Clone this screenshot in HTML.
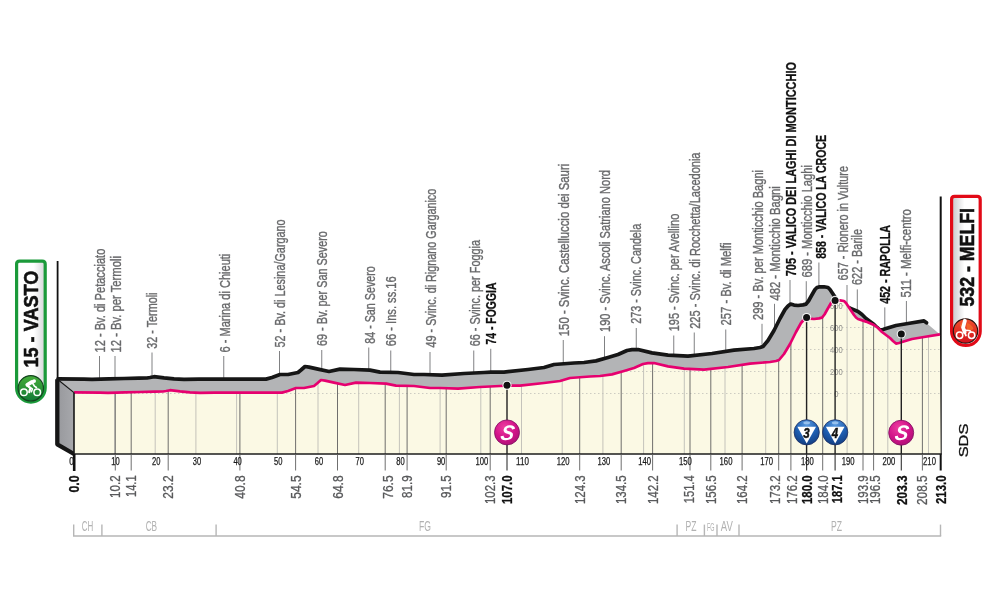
<!DOCTYPE html>
<html lang="it"><head><meta charset="utf-8"><title>Vasto - Melfi</title>
<style>
html,body{margin:0;padding:0;background:#fff;}
body{width:1000px;height:600px;overflow:hidden;}
svg{display:block;font-family:"Liberation Sans",sans-serif;}
.lb{font-size:14.2px;fill:#68696b;stroke:#68696b;stroke-width:0.35px;}
.lbb{font-size:14.2px;fill:#111;font-weight:bold;stroke:#111;stroke-width:0.3px;}
.km{font-size:14.2px;fill:#58595b;stroke:#58595b;stroke-width:0.3px;}
.kmb{font-size:14.2px;fill:#111;font-weight:bold;stroke:#111;stroke-width:0.3px;}
.ax{font-size:10.2px;fill:#1a1a1a;stroke:#1a1a1a;stroke-width:0.25px;text-anchor:middle;}
.el{font-size:9.4px;fill:#8f8f8c;text-anchor:middle;}
.pv{font-size:14.5px;fill:#b2b2b2;text-anchor:middle;}
</style></head><body>
<svg width="1000" height="600" viewBox="0 0 1000 600">
<defs>
<linearGradient id="gbox" x1="0" y1="0" x2="1" y2="0"><stop offset="0.08" stop-color="#cfd0d2"/><stop offset="0.45" stop-color="#fff"/><stop offset="1" stop-color="#fff"/></linearGradient>
<linearGradient id="gboxL" x1="0" y1="0" x2="1" y2="0"><stop offset="0" stop-color="#fff"/><stop offset="0.6" stop-color="#fff"/><stop offset="0.95" stop-color="#d9dadc"/></linearGradient>
<linearGradient id="gside" x1="0" y1="0" x2="1" y2="0"><stop offset="0" stop-color="#98999d"/><stop offset="1" stop-color="#a7a8ac"/></linearGradient>
<radialGradient id="gS" cx="0.4" cy="0.3" r="0.75"><stop offset="0" stop-color="#ee3fa0"/><stop offset="0.55" stop-color="#d3148a"/><stop offset="1" stop-color="#ad0f74"/></radialGradient>
<radialGradient id="gK" cx="0.5" cy="0.2" r="0.85"><stop offset="0" stop-color="#5b9be0"/><stop offset="0.5" stop-color="#1f5fb2"/><stop offset="1" stop-color="#123a7c"/></radialGradient>
<linearGradient id="gG" x1="0" y1="0" x2="0" y2="1"><stop offset="0" stop-color="#45ad3a"/><stop offset="1" stop-color="#117a35"/></linearGradient>
<linearGradient id="gR" x1="0" y1="0" x2="0" y2="1"><stop offset="0" stop-color="#f0512e"/><stop offset="1" stop-color="#d2101c"/></linearGradient>

<clipPath id="cf"><polygon points="74.0,392.4 100.0,392.7 108.0,392.9 125.0,392.4 140.0,392.0 155.0,391.7 163.0,391.5 166.0,391.0 170.0,390.2 174.0,390.6 180.0,391.4 190.0,392.4 200.0,392.8 215.0,392.7 230.0,392.6 282.0,392.6 288.0,391.0 296.0,388.0 304.0,388.0 314.0,386.0 317.0,383.5 321.0,380.0 325.0,380.6 334.0,382.6 345.0,385.0 356.0,382.6 370.0,383.0 386.0,383.6 396.0,385.6 414.0,386.0 430.0,388.0 440.0,388.0 458.0,388.6 480.0,387.0 500.0,386.0 507.0,385.6 520.0,385.6 544.0,383.0 560.0,381.0 570.0,378.0 590.0,376.5 600.0,376.0 612.0,374.4 624.0,371.0 634.0,368.0 643.0,364.0 648.0,363.2 654.0,363.0 668.0,366.4 684.0,368.6 704.0,369.6 728.0,367.0 750.0,363.6 770.0,362.0 776.0,361.0 779.0,360.0 784.0,354.0 790.0,344.0 796.0,332.0 801.0,323.0 804.0,319.5 806.6,317.6 810.0,318.6 814.0,319.0 819.0,318.4 822.0,317.6 824.5,314.5 827.0,310.0 831.0,303.0 833.0,301.0 835.0,300.4 840.0,300.3 844.0,301.0 846.0,303.0 848.0,306.0 854.0,315.0 856.0,317.5 858.0,319.0 866.0,321.6 874.0,325.0 878.0,328.0 882.0,332.0 890.0,338.0 893.0,341.0 896.0,343.6 899.0,343.0 902.0,342.0 912.0,339.0 924.0,337.0 940.0,334.4 940.7,454.0 74.0,454.0"/></clipPath>
</defs>
<rect width="1000" height="600" fill="#fff"/>
<g stroke="#808183" stroke-width="1" fill="none">
<line x1="99.50" y1="356.0" x2="99.50" y2="379.2"/>
<line x1="115.00" y1="356.0" x2="115.00" y2="378.7"/>
<line x1="152.00" y1="352.5" x2="152.00" y2="377.1"/>
<line x1="223.75" y1="356.0" x2="223.75" y2="379.1"/>
<line x1="279.50" y1="351.0" x2="279.50" y2="374.7"/>
<line x1="321.75" y1="350.0" x2="321.75" y2="369.9"/>
<line x1="368.75" y1="347.5" x2="368.75" y2="370.1"/>
<line x1="390.75" y1="350.5" x2="390.75" y2="372.3"/>
<line x1="430.00" y1="352.0" x2="430.00" y2="374.7"/>
<line x1="473.75" y1="350.5" x2="473.75" y2="373.0"/>
<line x1="490.75" y1="348.8" x2="490.75" y2="372.1"/>
<line x1="563.25" y1="340.0" x2="563.25" y2="363.8"/>
<line x1="604.50" y1="336.2" x2="604.50" y2="358.5"/>
<line x1="636.25" y1="328.0" x2="636.25" y2="349.6"/>
<line x1="673.75" y1="335.5" x2="673.75" y2="355.4"/>
<line x1="694.25" y1="332.5" x2="694.25" y2="355.4"/>
<line x1="725.75" y1="329.5" x2="725.75" y2="351.4"/>
<line x1="762.00" y1="323.8" x2="762.00" y2="346.8"/>
<line x1="774.50" y1="303.8" x2="774.50" y2="329.5"/>
<line x1="790.00" y1="280.0" x2="790.00" y2="304.5"/>
<line x1="806.25" y1="281.2" x2="806.25" y2="303.8"/>
<line x1="818.90" y1="262.5" x2="818.90" y2="286.9"/>
<line x1="847.00" y1="285.0" x2="847.00" y2="304.5"/>
<line x1="857.30" y1="289.4" x2="857.30" y2="311.2"/>
<line x1="884.80" y1="307.4" x2="884.80" y2="328.9"/>
<line x1="906.40" y1="301.0" x2="906.40" y2="323.8"/>
</g>
<text class="lb" transform="translate(105.00,352.50) rotate(-90)" textLength="103.8" lengthAdjust="spacingAndGlyphs">12 - Bv. di Petacciato</text>
<text class="lb" transform="translate(120.50,352.50) rotate(-90)" textLength="96.5" lengthAdjust="spacingAndGlyphs">12 - Bv. per Termoli</text>
<text class="lb" transform="translate(157.00,348.75) rotate(-90)" textLength="56.2" lengthAdjust="spacingAndGlyphs">32 - Termoli</text>
<text class="lb" transform="translate(229.50,352.50) rotate(-90)" textLength="98.8" lengthAdjust="spacingAndGlyphs">6 - Marina di Chieuti</text>
<text class="lb" transform="translate(285.00,347.50) rotate(-90)" textLength="128.1" lengthAdjust="spacingAndGlyphs">52 - Bv. di Lesina/Gargano</text>
<text class="lb" transform="translate(327.00,346.00) rotate(-90)" textLength="114.8" lengthAdjust="spacingAndGlyphs">69 - Bv. per San Severo</text>
<text class="lb" transform="translate(375.00,343.75) rotate(-90)" textLength="77.5" lengthAdjust="spacingAndGlyphs">84 - San Severo</text>
<text class="lb" transform="translate(396.00,346.25) rotate(-90)" textLength="70.0" lengthAdjust="spacingAndGlyphs">66 - Ins. ss.16</text>
<text class="lb" transform="translate(436.00,347.50) rotate(-90)" textLength="158.8" lengthAdjust="spacingAndGlyphs">49 - Svinc. di Rignano Garganico</text>
<text class="lb" transform="translate(480.00,346.25) rotate(-90)" textLength="106.2" lengthAdjust="spacingAndGlyphs">66 - Svinc. per Foggia</text>
<text class="lbb" transform="translate(496.00,344.50) rotate(-90)" textLength="62.0" lengthAdjust="spacingAndGlyphs">74 - FOGGIA</text>
<text class="lb" transform="translate(569.00,336.25) rotate(-90)" textLength="172.5" lengthAdjust="spacingAndGlyphs">150 - Svinc. Castelluccio dei Sauri</text>
<text class="lb" transform="translate(610.00,332.00) rotate(-90)" textLength="162.0" lengthAdjust="spacingAndGlyphs">190 - Svinc. Ascoli Satriano Nord</text>
<text class="lb" transform="translate(641.00,323.75) rotate(-90)" textLength="100.0" lengthAdjust="spacingAndGlyphs">273 - Svinc. Candela</text>
<text class="lb" transform="translate(679.00,331.25) rotate(-90)" textLength="117.5" lengthAdjust="spacingAndGlyphs">195 - Svinc. per Avellino</text>
<text class="lb" transform="translate(700.00,328.75) rotate(-90)" textLength="176.2" lengthAdjust="spacingAndGlyphs">225 - Svinc. di Rocchetta/Lacedonia</text>
<text class="lb" transform="translate(731.00,325.50) rotate(-90)" textLength="83.0" lengthAdjust="spacingAndGlyphs">257 - Bv. di Melfi</text>
<text class="lb" transform="translate(763.00,320.00) rotate(-90)" textLength="150.0" lengthAdjust="spacingAndGlyphs">299 - Bv. per Monticchio Bagni</text>
<text class="lb" transform="translate(780.00,300.50) rotate(-90)" textLength="114.2" lengthAdjust="spacingAndGlyphs">482 - Monticchio Bagni</text>
<text class="lbb" transform="translate(795.60,276.25) rotate(-90)" textLength="214.2" lengthAdjust="spacingAndGlyphs">705 - VALICO DEI LAGHI DI MONTICCHIO</text>
<text class="lb" transform="translate(811.60,277.50) rotate(-90)" textLength="112.5" lengthAdjust="spacingAndGlyphs">689 - Monticchio Laghi</text>
<text class="lbb" transform="translate(826.40,258.75) rotate(-90)" textLength="123.8" lengthAdjust="spacingAndGlyphs">858 - VALICO LA CROCE</text>
<text class="lb" transform="translate(848.00,280.40) rotate(-90)" textLength="114.4" lengthAdjust="spacingAndGlyphs">657 - Rionero in Vulture</text>
<text class="lb" transform="translate(862.00,285.00) rotate(-90)" textLength="56.0" lengthAdjust="spacingAndGlyphs">622 - Barile</text>
<text class="lbb" transform="translate(889.60,303.80) rotate(-90)" textLength="78.8" lengthAdjust="spacingAndGlyphs">452 - RAPOLLA</text>
<text class="lb" transform="translate(911.00,297.50) rotate(-90)" textLength="88.5" lengthAdjust="spacingAndGlyphs">511 - Melfi-centro</text>
<line x1="57.6" y1="261" x2="57.6" y2="380" stroke="#111" stroke-width="1.8"/>
<line x1="940.7" y1="196.5" x2="940.7" y2="470.5" stroke="#111" stroke-width="2"/>
<polygon points="58.0,378.9 84.0,379.2 92.0,379.4 109.0,378.9 124.0,378.5 139.0,378.2 147.0,378.0 150.0,377.5 154.0,376.7 158.0,377.1 164.0,377.9 174.0,378.9 184.0,379.3 199.0,379.2 214.0,379.1 266.0,379.1 272.0,377.5 280.0,374.5 288.0,374.5 298.0,372.5 301.0,370.0 305.0,366.5 309.0,367.1 318.0,369.1 329.0,371.5 340.0,369.1 354.0,369.5 370.0,370.1 380.0,372.1 398.0,372.5 414.0,374.5 424.0,374.5 442.0,375.1 464.0,373.5 484.0,372.5 491.0,372.1 504.0,372.1 528.0,369.5 544.0,367.5 554.0,364.5 574.0,363.0 584.0,362.5 596.0,360.9 608.0,357.5 618.0,354.5 627.0,350.5 632.0,349.7 638.0,349.5 652.0,352.9 668.0,355.1 688.0,356.1 712.0,353.5 734.0,350.1 754.0,348.5 760.0,347.5 763.0,346.5 768.0,340.5 774.0,330.5 780.0,318.5 785.0,309.5 788.0,306.0 790.6,304.1 794.0,305.1 798.0,305.5 803.0,304.9 806.0,304.1 808.5,301.0 811.0,296.5 815.0,289.5 817.0,287.5 819.0,286.9 824.0,286.8 828.0,287.5 830.0,289.5 832.0,292.5 838.0,301.5 840.0,304.0 842.0,305.5 850.0,308.1 858.0,311.5 862.0,314.5 866.0,318.5 874.0,324.5 877.0,327.5 880.0,330.1 883.0,329.5 886.0,328.5 896.0,325.5 908.0,323.5 924.0,320.9 940.0,334.4 924.0,337.0 912.0,339.0 902.0,342.0 899.0,343.0 896.0,343.6 893.0,341.0 890.0,338.0 882.0,332.0 878.0,328.0 874.0,325.0 866.0,321.6 858.0,319.0 856.0,317.5 854.0,315.0 848.0,306.0 846.0,303.0 844.0,301.0 840.0,300.3 835.0,300.4 833.0,301.0 831.0,303.0 827.0,310.0 824.5,314.5 822.0,317.6 819.0,318.4 814.0,319.0 810.0,318.6 806.6,317.6 804.0,319.5 801.0,323.0 796.0,332.0 790.0,344.0 784.0,354.0 779.0,360.0 776.0,361.0 770.0,362.0 750.0,363.6 728.0,367.0 704.0,369.6 684.0,368.6 668.0,366.4 654.0,363.0 648.0,363.2 643.0,364.0 634.0,368.0 624.0,371.0 612.0,374.4 600.0,376.0 590.0,376.5 570.0,378.0 560.0,381.0 544.0,383.0 520.0,385.6 507.0,385.6 500.0,386.0 480.0,387.0 458.0,388.6 440.0,388.0 430.0,388.0 414.0,386.0 396.0,385.6 386.0,383.6 370.0,383.0 356.0,382.6 345.0,385.0 334.0,382.6 325.0,380.6 321.0,380.0 317.0,383.5 314.0,386.0 304.0,388.0 296.0,388.0 288.0,391.0 282.0,392.6 230.0,392.6 215.0,392.7 200.0,392.8 190.0,392.4 180.0,391.4 174.0,390.6 170.0,390.2 166.0,391.0 163.0,391.5 155.0,391.7 140.0,392.0 125.0,392.4 108.0,392.9 100.0,392.7 74.0,392.4" fill="#b3b4b6"/>
<polygon points="57.5,379 74,392.6 74,454 57.5,444.5" fill="url(#gside)"/>
<polyline points="57.3,379.2 57.3,444.3 74,454" fill="none" stroke="#161616" stroke-width="4.3" stroke-linejoin="round"/>
<line x1="59" y1="380.5" x2="74" y2="392.6" stroke="#161616" stroke-width="1.2"/>
<polyline points="58.0,378.9 84.0,379.2 92.0,379.4 109.0,378.9 124.0,378.5 139.0,378.2 147.0,378.0 150.0,377.5 154.0,376.7 158.0,377.1 164.0,377.9 174.0,378.9 184.0,379.3 199.0,379.2 214.0,379.1 266.0,379.1 272.0,377.5 280.0,374.5 288.0,374.5 298.0,372.5 301.0,370.0 305.0,366.5 309.0,367.1 318.0,369.1 329.0,371.5 340.0,369.1 354.0,369.5 370.0,370.1 380.0,372.1 398.0,372.5 414.0,374.5 424.0,374.5 442.0,375.1 464.0,373.5 484.0,372.5 491.0,372.1 504.0,372.1 528.0,369.5 544.0,367.5 554.0,364.5 574.0,363.0 584.0,362.5 596.0,360.9 608.0,357.5 618.0,354.5 627.0,350.5 632.0,349.7 638.0,349.5 652.0,352.9 668.0,355.1 688.0,356.1 712.0,353.5 734.0,350.1 754.0,348.5 760.0,347.5 763.0,346.5 768.0,340.5 774.0,330.5 780.0,318.5 785.0,309.5 788.0,306.0 790.6,304.1 794.0,305.1 798.0,305.5 803.0,304.9 806.0,304.1 808.5,301.0 811.0,296.5 815.0,289.5 817.0,287.5 819.0,286.9 824.0,286.8 828.0,287.5 830.0,289.5 832.0,292.5 838.0,301.5 840.0,304.0 842.0,305.5 850.0,308.1 858.0,311.5 862.0,314.5 866.0,318.5 874.0,324.5 877.0,327.5 880.0,330.1 883.0,329.5 886.0,328.5 896.0,325.5 908.0,323.5 924.0,320.9 926.5,322.8" fill="none" stroke="#161616" stroke-width="3.7" stroke-linejoin="round" stroke-linecap="round"/>
<polygon points="74.0,392.4 100.0,392.7 108.0,392.9 125.0,392.4 140.0,392.0 155.0,391.7 163.0,391.5 166.0,391.0 170.0,390.2 174.0,390.6 180.0,391.4 190.0,392.4 200.0,392.8 215.0,392.7 230.0,392.6 282.0,392.6 288.0,391.0 296.0,388.0 304.0,388.0 314.0,386.0 317.0,383.5 321.0,380.0 325.0,380.6 334.0,382.6 345.0,385.0 356.0,382.6 370.0,383.0 386.0,383.6 396.0,385.6 414.0,386.0 430.0,388.0 440.0,388.0 458.0,388.6 480.0,387.0 500.0,386.0 507.0,385.6 520.0,385.6 544.0,383.0 560.0,381.0 570.0,378.0 590.0,376.5 600.0,376.0 612.0,374.4 624.0,371.0 634.0,368.0 643.0,364.0 648.0,363.2 654.0,363.0 668.0,366.4 684.0,368.6 704.0,369.6 728.0,367.0 750.0,363.6 770.0,362.0 776.0,361.0 779.0,360.0 784.0,354.0 790.0,344.0 796.0,332.0 801.0,323.0 804.0,319.5 806.6,317.6 810.0,318.6 814.0,319.0 819.0,318.4 822.0,317.6 824.5,314.5 827.0,310.0 831.0,303.0 833.0,301.0 835.0,300.4 840.0,300.3 844.0,301.0 846.0,303.0 848.0,306.0 854.0,315.0 856.0,317.5 858.0,319.0 866.0,321.6 874.0,325.0 878.0,328.0 882.0,332.0 890.0,338.0 893.0,341.0 896.0,343.6 899.0,343.0 902.0,342.0 912.0,339.0 924.0,337.0 940.0,334.4 940.7,454.0 74.0,454.0" fill="#fbf9e4"/>
<g clip-path="url(#cf)">
<g stroke="#cdccc2" stroke-width="1" stroke-dasharray="1.5 2.5">
<line x1="74" y1="393.5" x2="941" y2="393.5"/>
<line x1="74" y1="371.5" x2="941" y2="371.5"/>
<line x1="74" y1="349.5" x2="941" y2="349.5"/>
<line x1="74" y1="327.5" x2="941" y2="327.5"/>
<line x1="74" y1="305.5" x2="941" y2="305.5"/>
</g>
<g stroke="#c4c3bb" stroke-width="1">
<line x1="114.5" y1="280" x2="114.5" y2="454.0"/>
<line x1="155.2" y1="280" x2="155.2" y2="454.0"/>
<line x1="195.9" y1="280" x2="195.9" y2="454.0"/>
<line x1="236.6" y1="280" x2="236.6" y2="454.0"/>
<line x1="277.3" y1="280" x2="277.3" y2="454.0"/>
<line x1="318.0" y1="280" x2="318.0" y2="454.0"/>
<line x1="358.7" y1="280" x2="358.7" y2="454.0"/>
<line x1="399.4" y1="280" x2="399.4" y2="454.0"/>
<line x1="440.1" y1="280" x2="440.1" y2="454.0"/>
<line x1="480.8" y1="280" x2="480.8" y2="454.0"/>
<line x1="521.5" y1="280" x2="521.5" y2="454.0"/>
<line x1="562.2" y1="280" x2="562.2" y2="454.0"/>
<line x1="602.9" y1="280" x2="602.9" y2="454.0"/>
<line x1="643.6" y1="280" x2="643.6" y2="454.0"/>
<line x1="684.3" y1="280" x2="684.3" y2="454.0"/>
<line x1="725.0" y1="280" x2="725.0" y2="454.0"/>
<line x1="765.7" y1="280" x2="765.7" y2="454.0"/>
<line x1="806.4" y1="280" x2="806.4" y2="454.0"/>
<line x1="847.1" y1="280" x2="847.1" y2="454.0"/>
<line x1="887.8" y1="280" x2="887.8" y2="454.0"/>
<line x1="928.5" y1="280" x2="928.5" y2="454.0"/>
</g>
<g stroke="#5f5f5f" stroke-width="0.9">
<line x1="115.3" y1="280" x2="115.3" y2="454.0"/>
<line x1="131.2" y1="280" x2="131.2" y2="454.0"/>
<line x1="168.2" y1="280" x2="168.2" y2="454.0"/>
<line x1="239.9" y1="280" x2="239.9" y2="454.0"/>
<line x1="295.6" y1="280" x2="295.6" y2="454.0"/>
<line x1="337.5" y1="280" x2="337.5" y2="454.0"/>
<line x1="385.2" y1="280" x2="385.2" y2="454.0"/>
<line x1="407.1" y1="280" x2="407.1" y2="454.0"/>
<line x1="446.2" y1="280" x2="446.2" y2="454.0"/>
<line x1="490.2" y1="280" x2="490.2" y2="454.0"/>
<line x1="579.7" y1="280" x2="579.7" y2="454.0"/>
<line x1="621.2" y1="280" x2="621.2" y2="454.0"/>
<line x1="652.6" y1="280" x2="652.6" y2="454.0"/>
<line x1="690.0" y1="280" x2="690.0" y2="454.0"/>
<line x1="710.8" y1="280" x2="710.8" y2="454.0"/>
<line x1="742.1" y1="280" x2="742.1" y2="454.0"/>
<line x1="778.7" y1="280" x2="778.7" y2="454.0"/>
<line x1="790.9" y1="280" x2="790.9" y2="454.0"/>
<line x1="822.7" y1="280" x2="822.7" y2="454.0"/>
<line x1="863.0" y1="280" x2="863.0" y2="454.0"/>
<line x1="873.6" y1="280" x2="873.6" y2="454.0"/>
<line x1="922.4" y1="280" x2="922.4" y2="454.0"/>
</g>
<text class="el" x="836.3" y="396.8" textLength="4.2" lengthAdjust="spacingAndGlyphs">0</text>
<text class="el" x="836.3" y="374.8" textLength="12.6" lengthAdjust="spacingAndGlyphs">200</text>
<text class="el" x="836.3" y="352.8" textLength="12.6" lengthAdjust="spacingAndGlyphs">400</text>
<text class="el" x="836.3" y="330.8" textLength="12.6" lengthAdjust="spacingAndGlyphs">600</text>
<text class="el" x="836.3" y="308.8" textLength="12.6" lengthAdjust="spacingAndGlyphs">800</text>
</g>
<polyline points="74.0,392.4 100.0,392.7 108.0,392.9 125.0,392.4 140.0,392.0 155.0,391.7 163.0,391.5 166.0,391.0 170.0,390.2 174.0,390.6 180.0,391.4 190.0,392.4 200.0,392.8 215.0,392.7 230.0,392.6 282.0,392.6 288.0,391.0 296.0,388.0 304.0,388.0 314.0,386.0 317.0,383.5 321.0,380.0 325.0,380.6 334.0,382.6 345.0,385.0 356.0,382.6 370.0,383.0 386.0,383.6 396.0,385.6 414.0,386.0 430.0,388.0 440.0,388.0 458.0,388.6 480.0,387.0 500.0,386.0 507.0,385.6 520.0,385.6 544.0,383.0 560.0,381.0 570.0,378.0 590.0,376.5 600.0,376.0 612.0,374.4 624.0,371.0 634.0,368.0 643.0,364.0 648.0,363.2 654.0,363.0 668.0,366.4 684.0,368.6 704.0,369.6 728.0,367.0 750.0,363.6 770.0,362.0 776.0,361.0 779.0,360.0 784.0,354.0 790.0,344.0 796.0,332.0 801.0,323.0 804.0,319.5 806.6,317.6 810.0,318.6 814.0,319.0 819.0,318.4 822.0,317.6 824.5,314.5 827.0,310.0 831.0,303.0 833.0,301.0 835.0,300.4 840.0,300.3 844.0,301.0 846.0,303.0 848.0,306.0 854.0,315.0 856.0,317.5 858.0,319.0 866.0,321.6 874.0,325.0 878.0,328.0 882.0,332.0 890.0,338.0 893.0,341.0 896.0,343.6 899.0,343.0 902.0,342.0 912.0,339.0 924.0,337.0 940.0,334.4" fill="none" stroke="#e6006f" stroke-width="2.7" stroke-linejoin="round" stroke-linecap="butt"/>
<line x1="74" y1="392.6" x2="74" y2="454.0" stroke="#161616" stroke-width="1.6"/>
<line x1="73.2" y1="454.0" x2="941.7" y2="454.0" stroke="#1c1c1c" stroke-width="1.4"/>
<g stroke="#5f5f5f" stroke-width="0.9">
<line x1="115.3" y1="454.0" x2="115.3" y2="470.5"/>
<line x1="131.2" y1="454.0" x2="131.2" y2="470.5"/>
<line x1="168.2" y1="454.0" x2="168.2" y2="470.5"/>
<line x1="239.9" y1="454.0" x2="239.9" y2="470.5"/>
<line x1="295.6" y1="454.0" x2="295.6" y2="470.5"/>
<line x1="337.5" y1="454.0" x2="337.5" y2="470.5"/>
<line x1="385.2" y1="454.0" x2="385.2" y2="470.5"/>
<line x1="407.1" y1="454.0" x2="407.1" y2="470.5"/>
<line x1="446.2" y1="454.0" x2="446.2" y2="470.5"/>
<line x1="490.2" y1="454.0" x2="490.2" y2="470.5"/>
<line x1="579.7" y1="454.0" x2="579.7" y2="470.5"/>
<line x1="621.2" y1="454.0" x2="621.2" y2="470.5"/>
<line x1="652.6" y1="454.0" x2="652.6" y2="470.5"/>
<line x1="690.0" y1="454.0" x2="690.0" y2="470.5"/>
<line x1="710.8" y1="454.0" x2="710.8" y2="470.5"/>
<line x1="742.1" y1="454.0" x2="742.1" y2="470.5"/>
<line x1="778.7" y1="454.0" x2="778.7" y2="470.5"/>
<line x1="790.9" y1="454.0" x2="790.9" y2="470.5"/>
<line x1="822.7" y1="454.0" x2="822.7" y2="470.5"/>
<line x1="863.0" y1="454.0" x2="863.0" y2="470.5"/>
<line x1="873.6" y1="454.0" x2="873.6" y2="470.5"/>
<line x1="922.4" y1="454.0" x2="922.4" y2="470.5"/>
</g>
<line x1="74.2" y1="454.0" x2="74.2" y2="471" stroke="#111" stroke-width="2.6"/>
<line x1="507" y1="385.3" x2="507" y2="454.0" stroke="#222" stroke-width="1.4"/>
<line x1="507" y1="454.0" x2="507" y2="470.5" stroke="#333" stroke-width="1.1"/>
<circle cx="507" cy="385.3" r="4.6" fill="#fff" opacity="0.85"/>
<circle cx="507" cy="385.3" r="3.5" fill="#111"/>
<line x1="806.6" y1="317.6" x2="806.6" y2="454.0" stroke="#222" stroke-width="1.4"/>
<line x1="806.6" y1="454.0" x2="806.6" y2="470.5" stroke="#333" stroke-width="1.1"/>
<circle cx="806.6" cy="317.6" r="4.6" fill="#fff" opacity="0.85"/>
<circle cx="806.6" cy="317.6" r="3.5" fill="#111"/>
<line x1="835.1" y1="300.4" x2="835.1" y2="454.0" stroke="#222" stroke-width="1.4"/>
<line x1="835.1" y1="454.0" x2="835.1" y2="470.5" stroke="#333" stroke-width="1.1"/>
<circle cx="835.1" cy="300.4" r="4.6" fill="#fff" opacity="0.85"/>
<circle cx="835.1" cy="300.4" r="3.5" fill="#111"/>
<line x1="901.3" y1="334" x2="901.3" y2="454.0" stroke="#222" stroke-width="1.4"/>
<line x1="901.3" y1="454.0" x2="901.3" y2="470.5" stroke="#333" stroke-width="1.1"/>
<circle cx="901.3" cy="334" r="4.6" fill="#fff" opacity="0.85"/>
<circle cx="901.3" cy="334" r="3.5" fill="#111"/>
<text class="ax" x="71.5" y="465.1" textLength="4.6" lengthAdjust="spacingAndGlyphs">0</text>
<text class="ax" x="115.5" y="465.1" textLength="8.4" lengthAdjust="spacingAndGlyphs">10</text>
<text class="ax" x="156.2" y="465.1" textLength="8.4" lengthAdjust="spacingAndGlyphs">20</text>
<text class="ax" x="196.9" y="465.1" textLength="8.4" lengthAdjust="spacingAndGlyphs">30</text>
<text class="ax" x="237.6" y="465.1" textLength="8.4" lengthAdjust="spacingAndGlyphs">40</text>
<text class="ax" x="278.3" y="465.1" textLength="8.4" lengthAdjust="spacingAndGlyphs">50</text>
<text class="ax" x="319.0" y="465.1" textLength="8.4" lengthAdjust="spacingAndGlyphs">60</text>
<text class="ax" x="359.7" y="465.1" textLength="8.4" lengthAdjust="spacingAndGlyphs">70</text>
<text class="ax" x="400.4" y="465.1" textLength="8.4" lengthAdjust="spacingAndGlyphs">80</text>
<text class="ax" x="441.1" y="465.1" textLength="8.4" lengthAdjust="spacingAndGlyphs">90</text>
<text class="ax" x="481.8" y="465.1" textLength="12.8" lengthAdjust="spacingAndGlyphs">100</text>
<text class="ax" x="522.5" y="465.1" textLength="12.8" lengthAdjust="spacingAndGlyphs">110</text>
<text class="ax" x="563.2" y="465.1" textLength="12.8" lengthAdjust="spacingAndGlyphs">120</text>
<text class="ax" x="603.9" y="465.1" textLength="12.8" lengthAdjust="spacingAndGlyphs">130</text>
<text class="ax" x="644.6" y="465.1" textLength="12.8" lengthAdjust="spacingAndGlyphs">140</text>
<text class="ax" x="685.3" y="465.1" textLength="12.8" lengthAdjust="spacingAndGlyphs">150</text>
<text class="ax" x="726.0" y="465.1" textLength="12.8" lengthAdjust="spacingAndGlyphs">160</text>
<text class="ax" x="766.7" y="465.1" textLength="12.8" lengthAdjust="spacingAndGlyphs">170</text>
<text class="ax" x="807.4" y="465.1" textLength="12.8" lengthAdjust="spacingAndGlyphs">180</text>
<text class="ax" x="848.1" y="465.1" textLength="12.8" lengthAdjust="spacingAndGlyphs">190</text>
<text class="ax" x="888.8" y="465.1" textLength="12.8" lengthAdjust="spacingAndGlyphs">200</text>
<text class="ax" x="929.5" y="465.1" textLength="12.8" lengthAdjust="spacingAndGlyphs">210</text>
<text class="kmb" transform="translate(78.9,492.6) rotate(-90)" textLength="17.2" lengthAdjust="spacingAndGlyphs">0.0</text>
<text class="km" transform="translate(120.4,497.9) rotate(-90)" textLength="22.5" lengthAdjust="spacingAndGlyphs">10.2</text>
<text class="km" transform="translate(136.3,497.0) rotate(-90)" textLength="21.6" lengthAdjust="spacingAndGlyphs">14.1</text>
<text class="km" transform="translate(173.3,498.8) rotate(-90)" textLength="23.4" lengthAdjust="spacingAndGlyphs">23.2</text>
<text class="km" transform="translate(245.0,498.8) rotate(-90)" textLength="23.4" lengthAdjust="spacingAndGlyphs">40.8</text>
<text class="km" transform="translate(300.7,498.8) rotate(-90)" textLength="23.4" lengthAdjust="spacingAndGlyphs">54.5</text>
<text class="km" transform="translate(342.6,498.8) rotate(-90)" textLength="23.4" lengthAdjust="spacingAndGlyphs">64.8</text>
<text class="km" transform="translate(392.5,498.8) rotate(-90)" textLength="23.4" lengthAdjust="spacingAndGlyphs">76.5</text>
<text class="km" transform="translate(412.2,497.9) rotate(-90)" textLength="22.5" lengthAdjust="spacingAndGlyphs">81.9</text>
<text class="km" transform="translate(451.3,497.9) rotate(-90)" textLength="22.5" lengthAdjust="spacingAndGlyphs">91.5</text>
<text class="km" transform="translate(495.3,504.1) rotate(-90)" textLength="28.7" lengthAdjust="spacingAndGlyphs">102.3</text>
<text class="kmb" transform="translate(512.1,504.1) rotate(-90)" textLength="28.7" lengthAdjust="spacingAndGlyphs">107.0</text>
<text class="km" transform="translate(584.8,504.1) rotate(-90)" textLength="28.7" lengthAdjust="spacingAndGlyphs">124.3</text>
<text class="km" transform="translate(626.3,504.1) rotate(-90)" textLength="28.7" lengthAdjust="spacingAndGlyphs">134.5</text>
<text class="km" transform="translate(657.7,504.1) rotate(-90)" textLength="28.7" lengthAdjust="spacingAndGlyphs">142.2</text>
<text class="km" transform="translate(694.3,503.2) rotate(-90)" textLength="27.8" lengthAdjust="spacingAndGlyphs">151.4</text>
<text class="km" transform="translate(715.9,504.1) rotate(-90)" textLength="28.7" lengthAdjust="spacingAndGlyphs">156.5</text>
<text class="km" transform="translate(747.2,504.1) rotate(-90)" textLength="28.7" lengthAdjust="spacingAndGlyphs">164.2</text>
<text class="km" transform="translate(779.6,504.1) rotate(-90)" textLength="28.7" lengthAdjust="spacingAndGlyphs">173.2</text>
<text class="km" transform="translate(797.1,504.1) rotate(-90)" textLength="28.7" lengthAdjust="spacingAndGlyphs">176.2</text>
<text class="kmb" transform="translate(812.3,504.1) rotate(-90)" textLength="28.7" lengthAdjust="spacingAndGlyphs">180.0</text>
<text class="km" transform="translate(828.1,504.1) rotate(-90)" textLength="28.7" lengthAdjust="spacingAndGlyphs">184.0</text>
<text class="kmb" transform="translate(842.3,503.2) rotate(-90)" textLength="27.8" lengthAdjust="spacingAndGlyphs">187.1</text>
<text class="km" transform="translate(868.1,504.1) rotate(-90)" textLength="28.7" lengthAdjust="spacingAndGlyphs">193.9</text>
<text class="km" transform="translate(879.7,504.1) rotate(-90)" textLength="28.7" lengthAdjust="spacingAndGlyphs">196.5</text>
<text class="kmb" transform="translate(906.9,505.0) rotate(-90)" textLength="29.6" lengthAdjust="spacingAndGlyphs">203.3</text>
<text class="km" transform="translate(927.4,505.0) rotate(-90)" textLength="29.6" lengthAdjust="spacingAndGlyphs">208.5</text>
<text class="kmb" transform="translate(945.9,504.1) rotate(-90)" textLength="28.7" lengthAdjust="spacingAndGlyphs">213.0</text>
<circle cx="507" cy="432.4" r="12.5" fill="url(#gS)" stroke="#7d1060" stroke-width="0.8"/>
<text transform="translate(506.5,439.79999999999995) skewX(-10) scale(0.96,1)" text-anchor="middle" font-size="21" font-weight="bold" font-style="italic" fill="#fff">S</text>
<circle cx="806.7" cy="432.3" r="12.6" fill="url(#gK)" stroke="#1c2f63" stroke-width="0.8"/>
<ellipse cx="806.7" cy="422.7" rx="3.3" ry="1.5" fill="#a9cdf2" opacity="0.8"/>
<polygon points="797.4000000000001,426.8 816.0,426.8 806.7,443.6" fill="#fff"/>
<text x="806.5" y="438.1" text-anchor="middle" font-size="14.5" font-weight="bold" font-style="italic" fill="#111" stroke="#111" stroke-width="0.5" textLength="6.4" lengthAdjust="spacingAndGlyphs">3</text>
<circle cx="835.2" cy="432.3" r="12.6" fill="url(#gK)" stroke="#1c2f63" stroke-width="0.8"/>
<ellipse cx="835.2" cy="422.7" rx="3.3" ry="1.5" fill="#a9cdf2" opacity="0.8"/>
<polygon points="825.9000000000001,426.8 844.5,426.8 835.2,443.6" fill="#fff"/>
<text x="835.0" y="438.1" text-anchor="middle" font-size="14.5" font-weight="bold" font-style="italic" fill="#111" stroke="#111" stroke-width="0.5" textLength="6.4" lengthAdjust="spacingAndGlyphs">4</text>
<circle cx="901.2" cy="432.7" r="12.5" fill="url(#gS)" stroke="#7d1060" stroke-width="0.8"/>
<text transform="translate(900.7,440.09999999999997) skewX(-10) scale(0.96,1)" text-anchor="middle" font-size="21" font-weight="bold" font-style="italic" fill="#fff">S</text>
<g stroke="#b6b6b6" stroke-width="1.4" fill="none">
<line x1="73" y1="536" x2="941.2" y2="536"/>
<line x1="73.7" y1="524.6" x2="73.7" y2="536"/>
<line x1="101.9" y1="524.6" x2="101.9" y2="536"/>
<line x1="216.1" y1="524.6" x2="216.1" y2="536"/>
<line x1="677.1" y1="524.6" x2="677.1" y2="536"/>
<line x1="704.4" y1="524.6" x2="704.4" y2="536"/>
<line x1="717" y1="524.6" x2="717" y2="536"/>
<line x1="739" y1="524.6" x2="739" y2="536"/>
<line x1="940.5" y1="524.6" x2="940.5" y2="536"/>
</g>
<text class="pv" x="87.4" y="531.3" font-size="14.5" style="font-size:14.5px" textLength="11.5" lengthAdjust="spacingAndGlyphs">CH</text>
<text class="pv" x="151.4" y="531.3" font-size="14.5" style="font-size:14.5px" textLength="11.5" lengthAdjust="spacingAndGlyphs">CB</text>
<text class="pv" x="425.1" y="531.3" font-size="14.5" style="font-size:14.5px" textLength="12" lengthAdjust="spacingAndGlyphs">FG</text>
<text class="pv" x="691" y="531.3" font-size="14.5" style="font-size:14.5px" textLength="11" lengthAdjust="spacingAndGlyphs">PZ</text>
<text class="pv" x="710.8" y="531.3" font-size="10" style="font-size:10px" textLength="7.5" lengthAdjust="spacingAndGlyphs">FG</text>
<text class="pv" x="726.8" y="531.3" font-size="14.5" style="font-size:14.5px" textLength="12" lengthAdjust="spacingAndGlyphs">AV</text>
<text class="pv" x="836.4" y="531.3" font-size="14.5" style="font-size:14.5px" textLength="11" lengthAdjust="spacingAndGlyphs">PZ</text>
<path d="M19.6,261.1 H42.2 Q45.2,261.1 45.2,264.1 V387.84999999999997 A14.3,14.3 0 0 1 16.6,387.84999999999997 V264.1 Q16.6,261.1 19.6,261.1 Z" fill="url(#gboxL)" stroke="#1b9a3a" stroke-width="3.2"/>
<text transform="translate(37.5,367.6) rotate(-90)" font-size="19.3" font-weight="bold" fill="#111" stroke="#111" stroke-width="0.55" textLength="97" lengthAdjust="spacingAndGlyphs">15 - VASTO</text>
<circle cx="30.8" cy="388.3" r="12.7" fill="url(#gG)" stroke="#14431f" stroke-width="1.2"/>
<g fill="none" stroke="#fff" stroke-width="1.5"><circle cx="23.9" cy="392.2" r="3.3"/><circle cx="37.2" cy="392.2" r="3.3"/></g>
<g fill="none" stroke="#fff" stroke-linecap="round" stroke-linejoin="round"><path d="M27.2,384.90000000000003 L32.0,381.90000000000003" stroke-width="3.6"/><path d="M32.4,382.7 L34.4,386.1 L36.4,387.5" stroke-width="1.7"/><path d="M27.2,385.3 L30.400000000000002,388.1 L29.2,392.1" stroke-width="2.2"/><path d="M27.6,385.90000000000003 L32.4,388.90000000000003 L31.400000000000002,391.7" stroke-width="1.6"/></g>
<circle cx="34.1" cy="381.1" r="1.9" fill="#fff"/>
<path d="M954.6,196.4 H977.2 Q980.2,196.4 980.2,199.4 V331.2 A14.300000000000011,14.300000000000011 0 0 1 951.6,331.2 V199.4 Q951.6,196.4 954.6,196.4 Z" fill="url(#gbox)" stroke="#e20a17" stroke-width="3.2"/>
<text transform="translate(973.8,306.5) rotate(-90)" font-size="19.6" font-weight="bold" fill="#111" stroke="#111" stroke-width="0.55" textLength="98.5" lengthAdjust="spacingAndGlyphs">532 - MELFI</text>
<circle cx="965.5" cy="331.0" r="12.2" fill="url(#gR)" stroke="#2a1512" stroke-width="1.2"/>
<path d="M959.9,325.5 q1.5,-3.5 4,-4 l-1,7 q-2,0.5 -3,-3 z M967.0,323.0 q4.5,1 6.5,5.5 q-2.5,3.5 -6,1.5 q-2,-3 -0.5,-7 z" fill="#f26a2a" opacity="0.85"/>
<g fill="none" stroke="#fff" stroke-width="1.5"><circle cx="959.6" cy="335.3" r="3.2"/><circle cx="971.6" cy="335.3" r="3.2"/></g>
<g fill="none" stroke="#fff" stroke-linecap="round" stroke-linejoin="round"><path d="M964.9,320.8 L963.1,327.5 L964.7,332.2" stroke-width="3.8"/><path d="M964.5,331.5 L965.9,335.5" stroke-width="1.8"/><path d="M964.0,330.0 L970.1,330.8 L970.9,332.4" stroke-width="1.5"/></g>
<text transform="translate(967.5,457.3) rotate(-90)" font-size="12.5" fill="#111" stroke="#111" stroke-width="0.3" textLength="33.6" lengthAdjust="spacingAndGlyphs">SDS</text>
</svg></body></html>
